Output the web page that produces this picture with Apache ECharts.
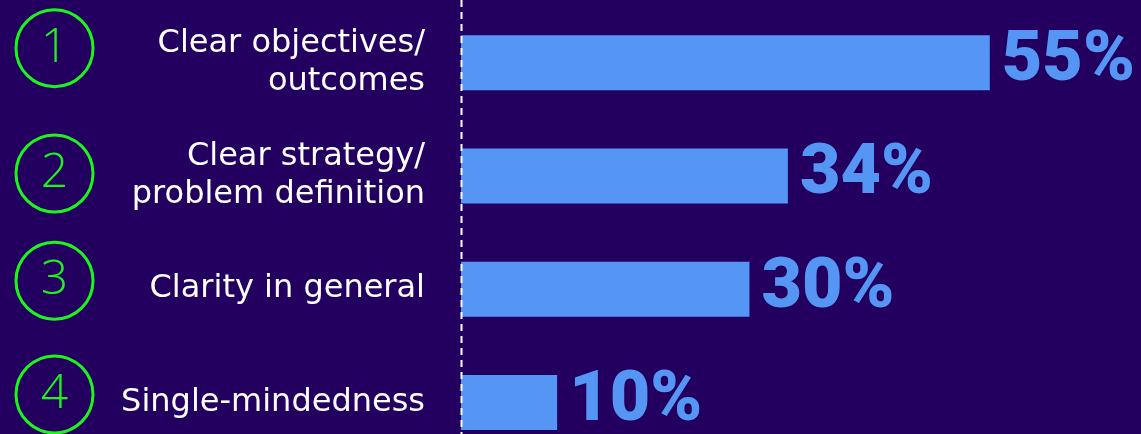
<!DOCTYPE html>
<html>
<head>
<meta charset="utf-8">
<style>
  html, body { margin: 0; padding: 0; background: #230060; }
  #chart { width: 1141px; height: 434px; }
</style>
<script src="https://cdn.jsdelivr.net/npm/echarts@6/dist/echarts.min.js"></script>
</head>
<body>
<div id="chart"></div>
<script>
// Ranked answers, top to bottom
const ranks = ['1', '2', '3', '4'];
const categories = [
  'Clear objectives/\noutcomes',
  'Clear strategy/\nproblem definition',
  'Clarity in general',
  'Single-mindedness'
];
const shares = [55, 34, 30, 10];

const BG = '#230060';
const BAR = '#5596f5';
const GREEN = '#1cf51c';
const LABEL_FONT = '"DejaVu Sans", "Open Sans", sans-serif';

// How far each text sits above the middle of its bar (bottom padding = 2x lift)
const textLift = [5, 16, 12, 16];
const badgeLift = [29, 5, 17, 16];

const chart = echarts.init(document.getElementById('chart'));

const option = {
  backgroundColor: BG,
  animation: false,
  grid: {
    left: 461, top: 6, width: 673, height: 453,
    containLabel: false,
    outerBoundsMode: 'none'
  },
  xAxis: {
    type: 'value',
    min: 0,
    max: 70,
    show: false
  },
  yAxis: [
    {
      type: 'category',
      inverse: true,
      data: categories.map((c, i) => ({ value: c, textStyle: { padding: [0, 0, textLift[i], 0] } })),
      axisLine: { show: false },
      axisTick: { show: false },
      axisLabel: {
        margin: 36,
        color: '#ffffff',
        fontFamily: LABEL_FONT,
        fontSize: 32,
        lineHeight: 38,
        align: 'right'
      }
    },
    {
      type: 'category',
      inverse: true,
      position: 'left',
      data: ranks.map((r, i) => ({ value: r, textStyle: { padding: [0, 0, badgeLift[i], 0] } })),
      axisLine: { show: false },
      axisTick: { show: false },
      axisLabel: {
        margin: 368,
        formatter: (v) => '{c|' + v + '}',
        rich: {
          c: {
            width: 77,
            height: 77,
            lineHeight: 77,
            align: 'center',
            verticalAlign: 'middle',
            borderRadius: 41,
            borderWidth: 3,
            borderColor: GREEN,
            color: GREEN,
            fontFamily: '"Open Sans", sans-serif',
            fontWeight: 300,
            fontSize: 48
          }
        }
      }
    }
  ],
  series: [
    {
      type: 'bar',
      yAxisIndex: 0,
      data: shares,
      barWidth: 55,
      itemStyle: { color: BAR },
      label: {
        show: true,
        position: 'right',
        distance: 12,
        formatter: '{c}%',
        color: BAR,
        fontFamily: 'Roboto, "Open Sans", sans-serif',
        fontWeight: 900,
        fontSize: 70
      }
    }
  ]
};

chart.setOption(option);

// Dashed divider along the zero of the value axis, full height of the canvas
const x0 = Math.round(chart.convertToPixel({ xAxisIndex: 0 }, 0));
chart.setOption({
  graphic: [{
    type: 'line',
    shape: { x1: x0 + 0.5, y1: 0, x2: x0 + 0.5, y2: 434 },
    style: { stroke: '#ffffff', lineWidth: 2, lineDash: [7, 5] },
    z: 10
  }]
});
</script>
</body>
</html>
